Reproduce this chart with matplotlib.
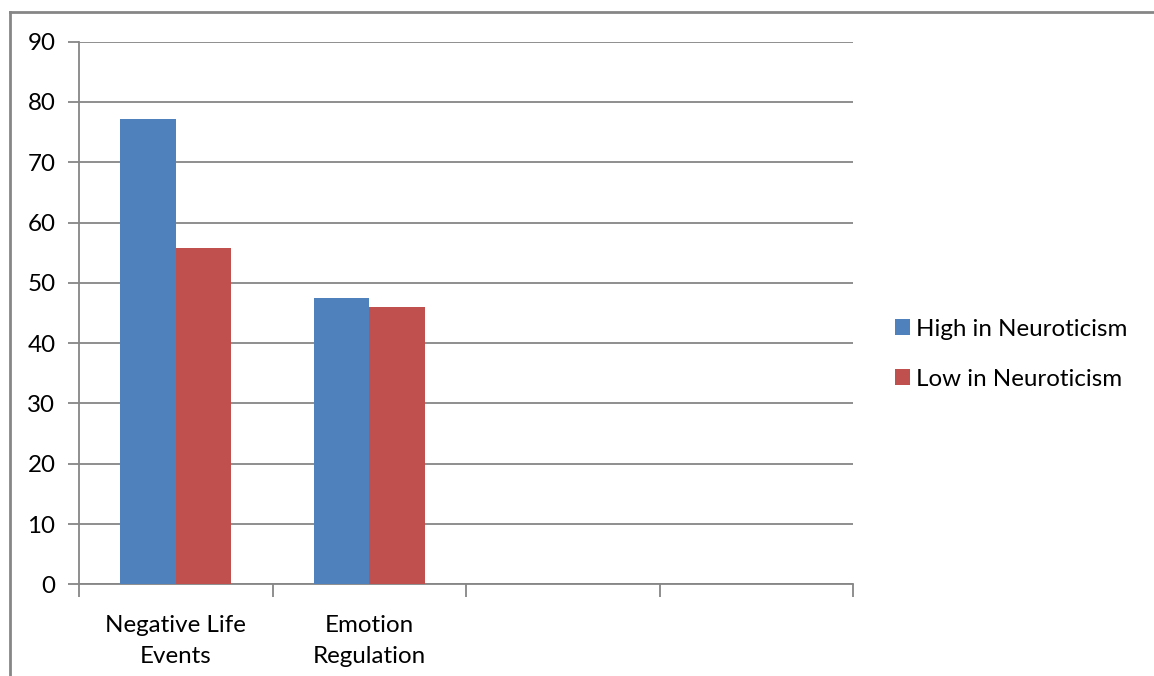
import numpy as np
import matplotlib
matplotlib.use("Agg")
import matplotlib.pyplot as plt
from matplotlib.patches import Patch
from matplotlib.lines import Line2D

categories = ["Negative Life\nEvents", "Emotion\nRegulation", "", ""]
high_neuroticism = [77.2, 47.5, np.nan, np.nan]
low_neuroticism = [55.8, 46.0, np.nan, np.nan]
series_names = ["High in Neuroticism", "Low in Neuroticism"]
y_ticks = [0, 10, 20, 30, 40, 50, 60, 70, 80, 90]

BLUE = "#4F81BD"
RED = "#C0504D"
GRAY = "#868686"
FONT = "Lato"
FS = 17.4

W, H = 1154, 676
fig = plt.figure(figsize=(W / 100, H / 100), dpi=100)
fig.patch.set_facecolor("white")

left, right = 79 / W, 853 / W
bottom, top = 1 - 584.3 / H, 1 - 41.7 / H
ax = fig.add_axes([left, bottom, right - left, top - bottom])

n = len(categories)
x = np.arange(n)
bw = 1 / 3.5
ax.bar(x - bw / 2, high_neuroticism, width=bw, color=BLUE, label=series_names[0], zorder=3)
ax.bar(x + bw / 2, low_neuroticism, width=bw, color=RED, label=series_names[1], zorder=3)

ax.set_xlim(-0.5, n - 0.5)
ax.set_ylim(0, 90)
ax.set_yticks(y_ticks)
ax.set_yticklabels([str(v) for v in y_ticks], fontsize=FS, fontfamily=FONT, color="black")
ax.yaxis.grid(True, color=GRAY, linewidth=1.3, zorder=0)
ax.set_axisbelow(True)

# category boundary ticks
ax.set_xticks(np.arange(-0.5, n, 1.0))
ax.set_xticklabels([])
ax.set_xticks(x, minor=True)
ax.set_xticklabels(categories, minor=True, fontsize=FS, fontfamily=FONT,
                   linespacing=1.62)
ax.tick_params(axis="x", which="major", length=9, width=1.3, color=GRAY, direction="out")
ax.tick_params(axis="x", which="minor", length=0, pad=22)
ax.tick_params(axis="y", length=8, width=1.3, color=GRAY, pad=9)

for s in ["top", "right"]:
    ax.spines[s].set_visible(False)
for s in ["left", "bottom"]:
    ax.spines[s].set_color(GRAY)
    ax.spines[s].set_linewidth(1.3)

handles = [Patch(facecolor=BLUE), Patch(facecolor=RED)]
leg = fig.legend(handles, series_names, loc="center left",
                 bbox_to_anchor=(895 / W, 1 - 354 / H), frameon=False,
                 prop={"family": FONT, "size": FS},
                 handlelength=0.62, handleheight=0.62, handletextpad=0.25,
                 labelspacing=1.2, borderaxespad=0, borderpad=0)

# outer chart border (partially cropped)
fig.add_artist(Line2D([10 / W, 10 / W], [0, 1 - 12 / H], color=GRAY, linewidth=2,
                      transform=fig.transFigure))
fig.add_artist(Line2D([10 / W, 1], [1 - 12 / H, 1 - 12 / H], color=GRAY, linewidth=2,
                      transform=fig.transFigure))

fig.savefig("out.png", dpi=100, facecolor="white")
